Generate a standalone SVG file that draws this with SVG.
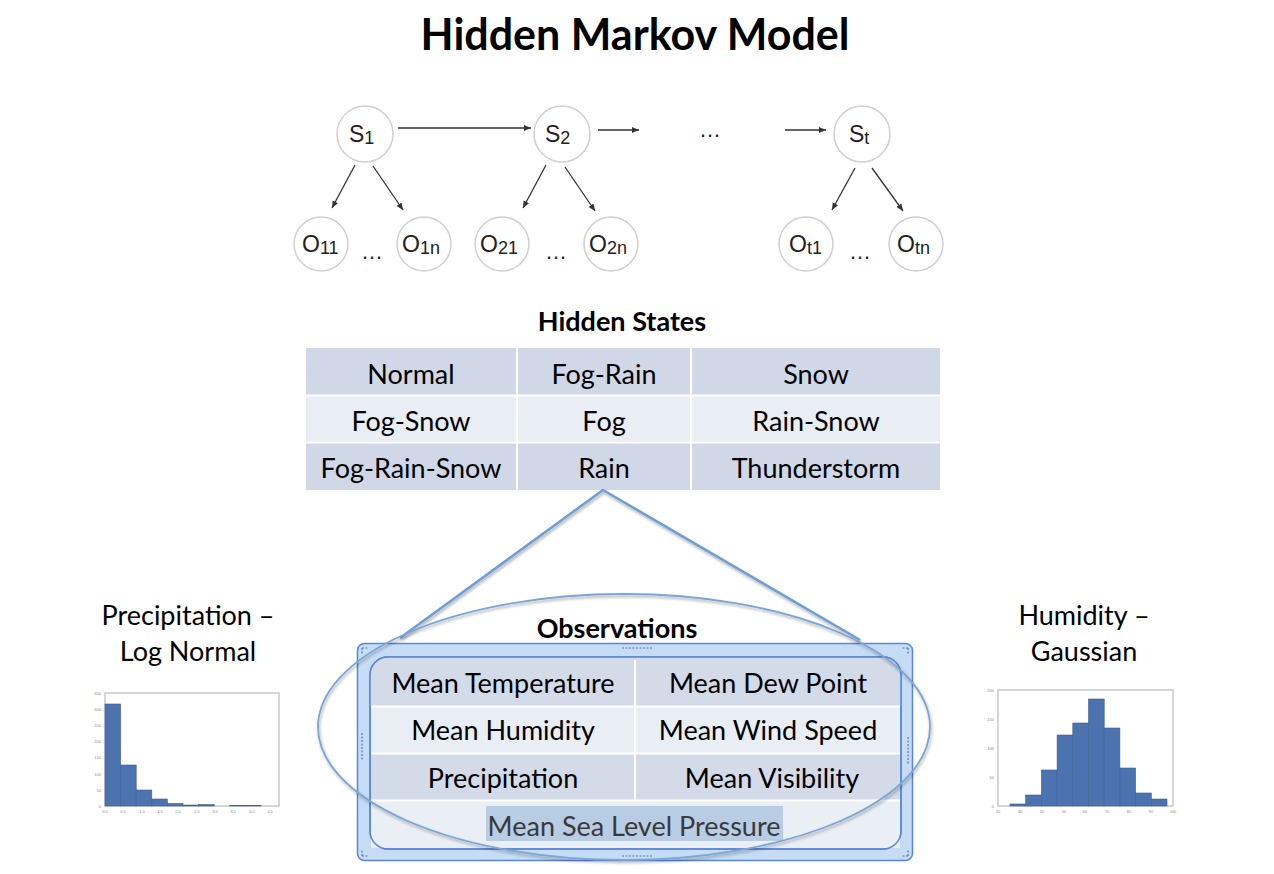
<svg xmlns="http://www.w3.org/2000/svg" width="1274" height="874" viewBox="0 0 1274 874">
<style>
.t{font-family:Lato,"Open Sans",sans-serif;fill:#000}
.b{font-weight:bold}
.cell{font-family:Lato,"Open Sans",sans-serif;font-size:27px;text-anchor:middle;fill:#000}
.nd{fill:#fff;stroke:#d0d0d0;stroke-width:1.5}
.nl{font-family:"Liberation Sans",Arial,sans-serif;font-size:23px;fill:#222}
.sub{font-size:18px}
.dots{font-family:"Liberation Sans",Arial,sans-serif;font-size:22px;fill:#222;text-anchor:middle}
.ar{stroke:#333;stroke-width:1.3;fill:none;marker-end:url(#ah)}
.r1{fill:#d0d8e8}
.r2{fill:#e9edf4}
.sep{stroke:#fff;stroke-width:2}
.bar{fill:#4c72b0;stroke:#3d5f95;stroke-width:0.6}
.ax{fill:#fff;stroke:#bbb;stroke-width:1.2}
.tk{font-family:"Liberation Sans",Arial,sans-serif;font-size:4px;fill:#888}
.hd{fill:none;stroke:#5577bb;stroke-width:1.2;stroke-dasharray:2 1.5}
</style>
<defs>
<marker id="ah" markerWidth="8" markerHeight="8" refX="7" refY="4" orient="auto" markerUnits="userSpaceOnUse">
<path d="M0,1 L7,4 L0,7 Z" fill="#333"/>
</marker>
<filter id="sh" x="-10%" y="-10%" width="120%" height="120%">
<feGaussianBlur in="SourceAlpha" stdDeviation="1.5"/>
<feOffset dx="1" dy="2" result="o"/>
<feComponentTransfer><feFuncA type="linear" slope="0.35"/></feComponentTransfer>
<feMerge><feMergeNode/><feMergeNode in="SourceGraphic"/></feMerge>
</filter>
</defs>
<rect width="1274" height="874" fill="#fff"/>

<text id="title" class="t b" x="635" y="50" font-size="43" text-anchor="middle">Hidden Markov Model</text>

<g id="connectors">
<line class="ar" x1="398" y1="128" x2="531" y2="128"/>
<line class="ar" x1="598" y1="130" x2="639" y2="130"/>
<line class="ar" x1="785" y1="130" x2="826" y2="130"/>
<line class="ar" x1="355" y1="165" x2="332" y2="208"/>
<line class="ar" x1="373" y1="166" x2="403" y2="210"/>
<line class="ar" x1="546" y1="165" x2="523" y2="208"/>
<line class="ar" x1="565" y1="167" x2="595" y2="211"/>
<line class="ar" x1="855" y1="168" x2="832" y2="210"/>
<line class="ar" x1="872" y1="168" x2="903" y2="211"/>
</g>
<text class="dots" x="710" y="137">…</text>
<text class="dots" x="372" y="259">…</text>
<text class="dots" x="556" y="259">…</text>
<text class="dots" x="860" y="259">…</text>

<g id="s1"><circle class="nd" cx="365" cy="134" r="28"/><text class="nl" x="349" y="142">S<tspan class="sub" dy="2">1</tspan></text></g>
<g id="s2"><circle class="nd" cx="562" cy="134" r="28"/><text class="nl" x="545" y="142">S<tspan class="sub" dy="2">2</tspan></text></g>
<g id="st"><circle class="nd" cx="862" cy="134" r="28"/><text class="nl" x="849" y="142">S<tspan class="sub" dy="2">t</tspan></text></g>
<g id="o11"><circle class="nd" cx="321" cy="244" r="27"/><text class="nl" x="302" y="252">O<tspan class="sub" dy="2">11</tspan></text></g>
<g id="o1n"><circle class="nd" cx="424" cy="244" r="27"/><text class="nl" x="402" y="252">O<tspan class="sub" dy="2">1n</tspan></text></g>
<g id="o21"><circle class="nd" cx="502" cy="244" r="27"/><text class="nl" x="480" y="252">O<tspan class="sub" dy="2">21</tspan></text></g>
<g id="o2n"><circle class="nd" cx="611" cy="244" r="27"/><text class="nl" x="589" y="252">O<tspan class="sub" dy="2">2n</tspan></text></g>
<g id="ot1"><circle class="nd" cx="806" cy="244" r="27"/><text class="nl" x="789" y="252">O<tspan class="sub" dy="2">t1</tspan></text></g>
<g id="otn"><circle class="nd" cx="916" cy="244" r="27"/><text class="nl" x="897" y="252">O<tspan class="sub" dy="2">tn</tspan></text></g>

<g id="hidden-states">
<text class="t b" x="622" y="331" font-size="27" text-anchor="middle">Hidden States</text>
<rect class="r1" x="306" y="348" width="634" height="47"/>
<rect class="r2" x="306" y="395" width="634" height="47"/>
<rect class="r1" x="306" y="442" width="634" height="48"/>
<line class="sep" x1="306" y1="395.5" x2="940" y2="395.5"/>
<line class="sep" x1="306" y1="442.5" x2="940" y2="442.5"/>
<line class="sep" x1="517" y1="348" x2="517" y2="490"/>
<line class="sep" x1="691" y1="348" x2="691" y2="490"/>
<text class="cell" x="411" y="384">Normal</text>
<text class="cell" x="604" y="384">Fog-Rain</text>
<text class="cell" x="816" y="384">Snow</text>
<text class="cell" x="411" y="431">Fog-Snow</text>
<text class="cell" x="604" y="431">Fog</text>
<text class="cell" x="816" y="431">Rain-Snow</text>
<text class="cell" x="411" y="478">Fog-Rain-Snow</text>
<text class="cell" x="604" y="478">Rain</text>
<text class="cell" x="816" y="478">Thunderstorm</text>
</g>

<g id="zoom-triangle" filter="url(#sh)">
<polyline points="400,638 603,490 860,640" fill="none" stroke="#6e9fd2" stroke-width="2.5" stroke-linejoin="round"/>
</g>

<g id="observations">
<text class="t b" x="617" y="638" font-size="27" text-anchor="middle">Observations</text>
<rect x="357.5" y="643.5" width="555" height="217" rx="7" fill="#c6dcf5" stroke="#5a86d6" stroke-width="1.5"/>
<rect x="370" y="657" width="531" height="192" rx="18" fill="#eef1f7" stroke="#5a86d6" stroke-width="1.5"/>
<path d="M370,706 V675 A18,18 0 0 1 388,657 H883 A18,18 0 0 1 901,675 V706 Z" fill="#d3dbe9"/>
<rect x="371" y="707" width="529" height="46" fill="#e9edf4"/>
<rect x="371" y="754" width="529" height="46" fill="#d3dbe9"/>
<rect x="371" y="801" width="529" height="47" fill="#eaeef5"/>
<line class="sep" x1="371" y1="706.5" x2="900" y2="706.5"/>
<line class="sep" x1="371" y1="753.5" x2="900" y2="753.5"/>
<line class="sep" x1="371" y1="800.5" x2="900" y2="800.5"/>
<line class="sep" x1="635" y1="660" x2="635" y2="800"/>
<rect x="370" y="657" width="531" height="192" rx="18" fill="none" stroke="#5a86d6" stroke-width="1.5"/>
<text class="cell" x="503" y="693">Mean Temperature</text>
<text class="cell" x="768" y="693">Mean Dew Point</text>
<text class="cell" x="503" y="740">Mean Humidity</text>
<text class="cell" x="768" y="740">Mean Wind Speed</text>
<text class="cell" x="503" y="788">Precipitation</text>
<text class="cell" x="772" y="788">Mean Visibility</text>
<rect x="486" y="806" width="297" height="35" fill="#b8cce4"/>
<text class="cell" x="634" y="836" style="fill:#3a3a3a">Mean Sea Level Pressure</text>
<path class="hd" d="M622,648 H652 M622,856 H652 M362,733 V760 M908,737 V764 M362,648 h6 M362,648 v6 M908,648 h-6 M908,648 v6 M362,856 h6 M362,856 v-6 M908,856 h-6 M908,856 v-6"/>
<ellipse cx="624" cy="727" rx="306" ry="133" fill="none" stroke="#7aa6d6" stroke-width="1.8" filter="url(#sh)"/>
</g>

<g id="precip-label">
<text class="t" x="188" y="625" font-size="27" text-anchor="middle">Precipitation –</text>
<text class="t" x="188" y="661" font-size="27" text-anchor="middle">Log Normal</text>
</g>
<g id="hist-left">
<rect class="ax" x="105" y="693" width="174" height="113"/>
<rect class="bar" x="105" y="704" width="15.6" height="102"/>
<rect class="bar" x="120.6" y="765" width="15.6" height="41"/>
<rect class="bar" x="136.2" y="790" width="15.6" height="16"/>
<rect class="bar" x="151.8" y="799" width="15.6" height="7"/>
<rect class="bar" x="167.4" y="803.5" width="15.6" height="2.5"/>
<rect class="bar" x="183" y="805" width="15.6" height="1"/>
<rect class="bar" x="198.6" y="804.5" width="15.6" height="1.5"/>
<rect class="bar" x="229.8" y="805.3" width="15.6" height="0.7"/>
<rect class="bar" x="245.4" y="805.3" width="15.6" height="0.7"/>
<g class="tk" text-anchor="end">
<text x="101" y="695">350</text><text x="101" y="711">300</text><text x="101" y="727">250</text><text x="101" y="743">200</text><text x="101" y="759">150</text><text x="101" y="776">100</text><text x="101" y="792">50</text><text x="101" y="808">0</text>
</g>
<g class="tk" text-anchor="middle">
<text x="105" y="813">0.0</text><text x="123" y="813">0.5</text><text x="142" y="813">1.0</text><text x="160" y="813">1.5</text><text x="178" y="813">2.0</text><text x="197" y="813">2.5</text><text x="215" y="813">3.0</text><text x="233" y="813">3.5</text><text x="252" y="813">4.0</text><text x="270" y="813">4.5</text>
</g>
</g>

<g id="humidity-label">
<text class="t" x="1084" y="625" font-size="27" text-anchor="middle">Humidity –</text>
<text class="t" x="1084" y="661" font-size="27" text-anchor="middle">Gaussian</text>
</g>
<g id="hist-right">
<rect class="ax" x="998" y="690" width="175" height="116"/>
<rect class="bar" x="1010" y="804" width="15.7" height="2"/>
<rect class="bar" x="1025.7" y="795" width="15.7" height="11"/>
<rect class="bar" x="1041.4" y="770" width="15.7" height="36"/>
<rect class="bar" x="1057.1" y="735" width="15.7" height="71"/>
<rect class="bar" x="1072.8" y="723" width="15.7" height="83"/>
<rect class="bar" x="1088.5" y="699" width="15.7" height="107"/>
<rect class="bar" x="1104.2" y="728" width="15.7" height="78"/>
<rect class="bar" x="1119.9" y="768" width="15.7" height="38"/>
<rect class="bar" x="1135.6" y="793" width="15.7" height="13"/>
<rect class="bar" x="1151.3" y="799" width="15.7" height="7"/>
<g class="tk" text-anchor="end">
<text x="994" y="692">200</text><text x="994" y="721">150</text><text x="994" y="750">100</text><text x="994" y="779">50</text><text x="994" y="808">0</text>
</g>
<g class="tk" text-anchor="middle">
<text x="998" y="813">20</text><text x="1020" y="813">30</text><text x="1042" y="813">40</text><text x="1064" y="813">50</text><text x="1085" y="813">60</text><text x="1107" y="813">70</text><text x="1129" y="813">80</text><text x="1151" y="813">90</text><text x="1173" y="813">100</text>
</g>
</g>
</svg>
